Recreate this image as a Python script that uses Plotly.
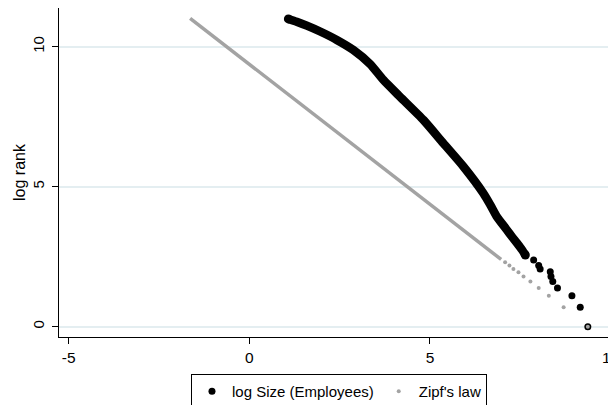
import plotly.graph_objects as go

# ---- data ----
# log Size (Employees): dense part of the curve (top to bottom)
size_curve_x = [1.08, 1.31, 1.59, 1.96, 2.42, 2.88, 3.34, 3.71, 4.17, 4.82, 5.37, 5.93,
                6.48, 6.67, 6.85, 6.99, 7.13, 7.27, 7.41, 7.55, 7.64]
size_curve_y = [10.99, 10.89, 10.75, 10.54, 10.24, 9.88, 9.38, 8.81, 8.21, 7.38, 6.55, 5.71,
                4.76, 4.35, 3.93, 3.69, 3.45, 3.21, 2.98, 2.74, 2.56]
# log Size (Employees): separate points of the tail (largest firms)
size_tail_x = [7.87, 8.01, 8.05, 8.33, 8.35, 8.40, 8.53, 8.93, 9.16, 9.37]
size_tail_y = [2.38, 2.18, 2.06, 1.96, 1.79, 1.61, 1.38, 1.10, 0.69, 0.00]

# Zipf's law: dense part (a straight band) and separate points of the tail
zipf_line_x = [-1.64, 2.37, 6.97]
zipf_line_y = [11.01, 7.00, 2.40]
zipf_tail_x = [7.08, 7.20, 7.31, 7.45, 7.59, 7.78, 8.01, 8.29, 8.70, 9.37]
zipf_tail_y = [2.30, 2.18, 2.06, 1.94, 1.79, 1.61, 1.38, 1.10, 0.69, 0.00]

x_ticks = [-5, 0, 5, 10]
y_ticks = [0, 5, 10]

BLACK = "#000000"
GRAY = "#a3a3a3"
FONT = "Liberation Sans, Arial, Helvetica, sans-serif"

fig = go.Figure()

# black dense curve (thick band of overlapping markers)
fig.add_trace(go.Scatter(
    x=size_curve_x, y=size_curve_y, mode="lines",
    line=dict(color=BLACK, width=8.5, shape="spline", smoothing=0.6),
    showlegend=False, hoverinfo="skip"))
fig.add_trace(go.Scatter(
    x=size_curve_x[:1] + size_curve_x[-1:], y=size_curve_y[:1] + size_curve_y[-1:],
    mode="markers", marker=dict(color=BLACK, size=9),
    showlegend=False, hoverinfo="skip"))
# black tail points (legend entry)
fig.add_trace(go.Scatter(
    x=size_tail_x, y=size_tail_y, mode="markers",
    marker=dict(color=BLACK, size=7),
    name="log Size (Employees)"))

# gray Zipf's law band
fig.add_trace(go.Scatter(
    x=zipf_line_x, y=zipf_line_y, mode="lines",
    line=dict(color=GRAY, width=3.5),
    showlegend=False, hoverinfo="skip"))
# gray tail points (legend entry)
fig.add_trace(go.Scatter(
    x=zipf_tail_x, y=zipf_tail_y, mode="markers",
    marker=dict(color=GRAY, size=4),
    name="Zipf's law"))

# the page body adds an 8px offset, so the figure is sized to the visible area
fig.update_layout(
    width=608, height=397,
    margin=dict(l=51, r=0, t=0, b=68, autoexpand=False),
    paper_bgcolor="white", plot_bgcolor="white",
    font=dict(family=FONT, color="black", size=15),
    showlegend=True,
    legend=dict(
        orientation="h", xref="container", yref="container",
        x=0.5444, xanchor="center", y=0.078, yanchor="top",
        bordercolor="black", borderwidth=1, bgcolor="white",
        font=dict(family=FONT, size=15, color="black"),
        traceorder="normal"),
    xaxis=dict(
        range=[-5.27, 10.15], tickmode="array", tickvals=x_ticks,
        ticktext=[str(v) for v in x_ticks], automargin=False,
        showgrid=False, zeroline=False,
        showline=True, linecolor="black", linewidth=1.3,
        ticks="outside", ticklen=6, tickwidth=1.3, tickcolor="black",
        tickfont=dict(size=15.5), ticklabeloverflow="allow"),
    yaxis=dict(
        range=[-0.37, 11.38], tickmode="array", tickvals=y_ticks,
        ticktext=[str(v) for v in y_ticks], automargin=False,
        showgrid=True, gridcolor="#e4eef1", gridwidth=1.5, zeroline=False,
        showline=True, linecolor="black", linewidth=1.3,
        ticks="outside", ticklen=6, tickwidth=1.3, tickcolor="black",
        tickangle=-90, tickfont=dict(size=15), ticklabelstandoff=2,
        title=dict(text="log rank", font=dict(size=16), standoff=0)),
)

fig.write_html("out.html")
